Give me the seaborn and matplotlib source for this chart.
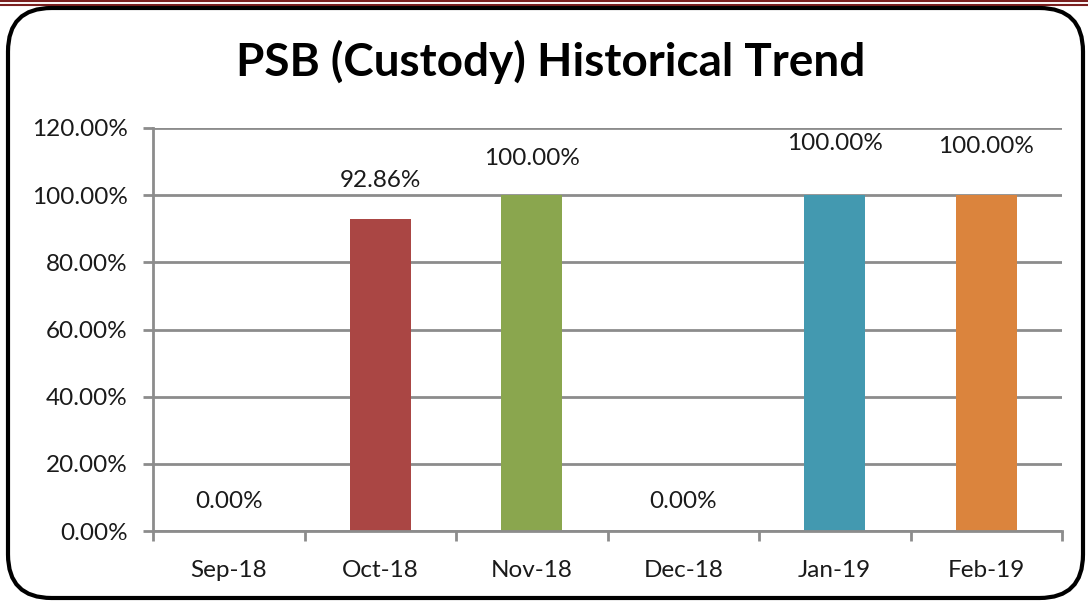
import matplotlib
matplotlib.use("Agg")
import matplotlib.pyplot as plt
import seaborn as sns
import pandas as pd
import numpy as np
from matplotlib.patches import FancyBboxPatch
from matplotlib.lines import Line2D

categories = ["Sep-18", "Oct-18", "Nov-18", "Dec-18", "Jan-19", "Feb-19"]
values = [0.0, 92.86, 100.0, 0.0, 100.0, 100.0]
bar_colors = ["#4F81BD", "#AA4644", "#8AA64E", "#7E649C", "#4399B0", "#DB843D"]
label_offsets_px = [29, 39, 37, 29, 52, 49]
y_ticks = [0, 20, 40, 60, 80, 100, 120]

sns.set_theme(style="white")
plt.rcParams["font.family"] = ["Lato", "DejaVu Sans"]

df = pd.DataFrame({"month": categories, "pct": values})

fig = plt.figure(figsize=(10.88, 6.02), dpi=100)
ax = fig.add_axes([153/1088, 1 - 531/602, (1062-153)/1088, (531-128)/602])

sns.barplot(data=df, x="month", y="pct", hue="month", palette=bar_colors,
            width=0.4, legend=False, ax=ax, saturation=1, linewidth=0)

ax.set_ylim(0, 120)
ax.set_xlim(-0.5, 5.5)
ax.set_yticks(y_ticks)
ax.set_yticklabels([f"{v:.2f}%" for v in y_ticks])
ax.set_xlabel("")
ax.set_ylabel("")
ax.yaxis.grid(True, color="#8c8c8c", linewidth=2)
ax.set_axisbelow(True)
for s in ["top", "right"]:
    ax.spines[s].set_visible(False)
for s in ["left", "bottom"]:
    ax.spines[s].set_color("#8c8c8c")
    ax.spines[s].set_linewidth(2)
ax.tick_params(axis="y", which="major", left=True, length=7.2, width=2, color="#8c8c8c",
               labelsize=17.5, pad=11, labelcolor="#1a1a1a")
ax.set_xticks(np.arange(-0.5, 6.0, 1.0), minor=True)
ax.tick_params(axis="x", which="minor", bottom=True, length=7.2, width=2, color="#8c8c8c")
ax.tick_params(axis="x", which="major", bottom=False, labelsize=17.5, pad=15, labelcolor="#1a1a1a")

for i, (v, off) in enumerate(zip(values, label_offsets_px)):
    ax.annotate(f"{v:.2f}%", xy=(i, v), xytext=(0, off * 0.72), textcoords="offset points",
                ha="center", va="center", fontsize=17.5, color="#1a1a1a")

fig.text(0.506, 1 - 62/602, "PSB (Custody) Historical Trend", ha="center", va="center",
         fontsize=33, fontweight="bold", color="#000000")

# outer rounded frame
box = FancyBboxPatch((8/1088, 4/602), (1083-8)/1088, (592-2)/602,
                     boxstyle="round,pad=0,rounding_size=0.04", transform=fig.transFigure,
                     facecolor="none", edgecolor="black", linewidth=3, zorder=10,
                     mutation_aspect=1088/602)
fig.patches.append(box)
fig.lines.append(Line2D([0, 1], [1 - 1/602, 1 - 1/602], transform=fig.transFigure, color="#7a1f1f", linewidth=1.5))
fig.lines.append(Line2D([0, 1], [1 - 4.5/602, 1 - 4.5/602], transform=fig.transFigure, color="#7a1f1f", linewidth=1.5))

fig.savefig("out.png", dpi=100)
